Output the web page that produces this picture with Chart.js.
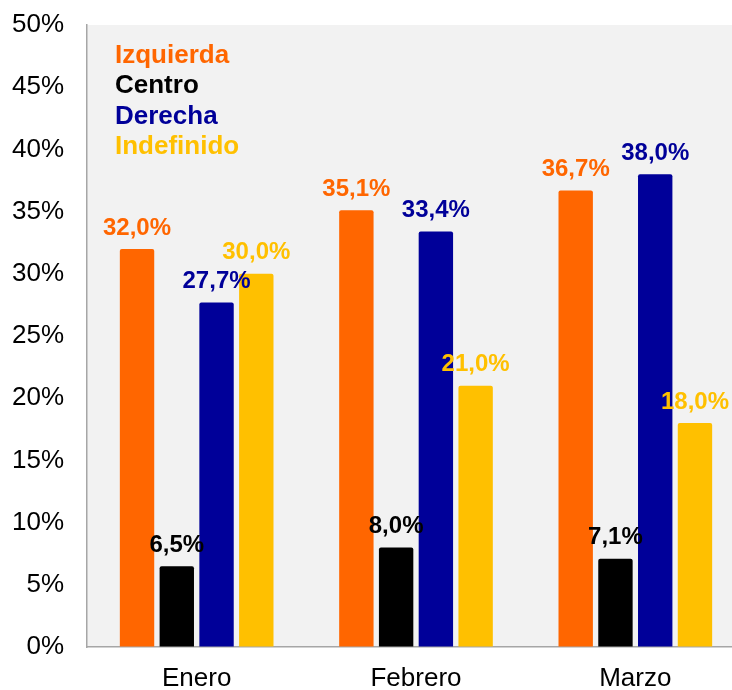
<!DOCTYPE html>
<html>
<head>
<meta charset="utf-8">
<script src="https://cdn.jsdelivr.net/npm/chart.js@4.4.1/dist/chart.umd.min.js"></script>
<style>
  html, body { margin: 0; padding: 0; background: #fff; overflow: hidden; }
  #wrap { position: relative; width: 745px; height: 690px; }
</style>
</head>
<body>
<div id="wrap"><canvas id="chart"></canvas></div>
<script>
// ===== 資料 =====
const months = ["Enero", "Febrero", "Marzo"];
const izquierda = [32.0, 35.1, 36.7];
const centro = [6.5, 8.0, 7.1];
const derecha = [27.7, 33.4, 38.0];
const indefinido = [30.0, 21.0, 18.0];

const FONT = "'Liberation Sans', Arial, sans-serif";

// 繪圖區灰色背景
const plotBg = {
  id: "plotBg",
  beforeDraw(chart) {
    const { ctx, chartArea: a } = chart;
    ctx.save();
    ctx.fillStyle = "#f2f2f2";
    ctx.fillRect(a.left, a.top, a.right - a.left, a.bottom - a.top);
    ctx.restore();
  },
};

// 柱頂數值標籤
const barLabels = {
  id: "barLabels",
  afterDatasetsDraw(chart) {
    const ctx = chart.ctx;
    ctx.save();
    ctx.font = "bold 24px " + FONT;
    ctx.textAlign = "center";
    ctx.textBaseline = "bottom";
    chart.data.datasets.forEach((ds, i) => {
      const meta = chart.getDatasetMeta(i);
      ctx.fillStyle = ds.backgroundColor;
      meta.data.forEach((bar, j) => {
        const v = ds.data[j];
        ctx.fillText(v.toFixed(1).replace(".", ",") + "%", bar.x, bar.y - 9);
      });
    });
    ctx.restore();
  },
};

// 圖例（只有文字）
const textLegend = {
  id: "textLegend",
  afterDraw(chart) {
    const { ctx, chartArea: a } = chart;
    ctx.save();
    ctx.font = "bold 26px " + FONT;
    ctx.textAlign = "left";
    ctx.textBaseline = "alphabetic";
    chart.data.datasets.forEach((ds, i) => {
      ctx.fillStyle = ds.backgroundColor;
      ctx.fillText(ds.label, a.left + 28, a.top + 38 + i * 30.3);
    });
    ctx.restore();
  },
};

new Chart(document.getElementById("chart"), {
  type: "bar",
  data: {
    labels: months,
    datasets: [
      { label: "Izquierda", data: izquierda, backgroundColor: "#ff6600" },
      { label: "Centro", data: centro, backgroundColor: "#000000" },
      { label: "Derecha", data: derecha, backgroundColor: "#000099" },
      { label: "Indefinido", data: indefinido, backgroundColor: "#ffc000" },
    ].map((d) => ({
      ...d,
      borderRadius: 2,
      borderSkipped: "bottom",
      categoryPercentage: 0.725,
      barPercentage: 0.865,
    })),
  },
  options: {
    responsive: true,
    maintainAspectRatio: false,
    animation: false,
    layout: { padding: { top: 25, right: 0, left: 0, bottom: 0 } },
    plugins: {
      legend: { display: false },
      tooltip: { enabled: false },
    },
    scales: {
      x: {
        grid: { display: true, drawOnChartArea: false, drawTicks: false },
        border: { display: true, color: "#a6a6a6", width: 1.5 },
        ticks: { color: "#000", font: { size: 26, family: FONT }, padding: 16 },
        afterFit(scale) {
          scale.height = 43;
        },
      },
      y: {
        min: 0,
        max: 50,
        grid: { display: true, drawOnChartArea: false, drawTicks: false },
        border: { display: true, color: "#a6a6a6", width: 1.5 },
        ticks: {
          stepSize: 5,
          color: "#000",
          font: { size: 26, family: FONT },
          padding: 23,
          callback: (v) => v + "%",
        },
        afterFit(scale) {
          scale.width = 87;
          scale.paddingTop = 0;
          scale.paddingBottom = 0;
        },
      },
    },
  },
  plugins: [plotBg, barLabels, textLegend],
});
</script>
</body>
</html>
